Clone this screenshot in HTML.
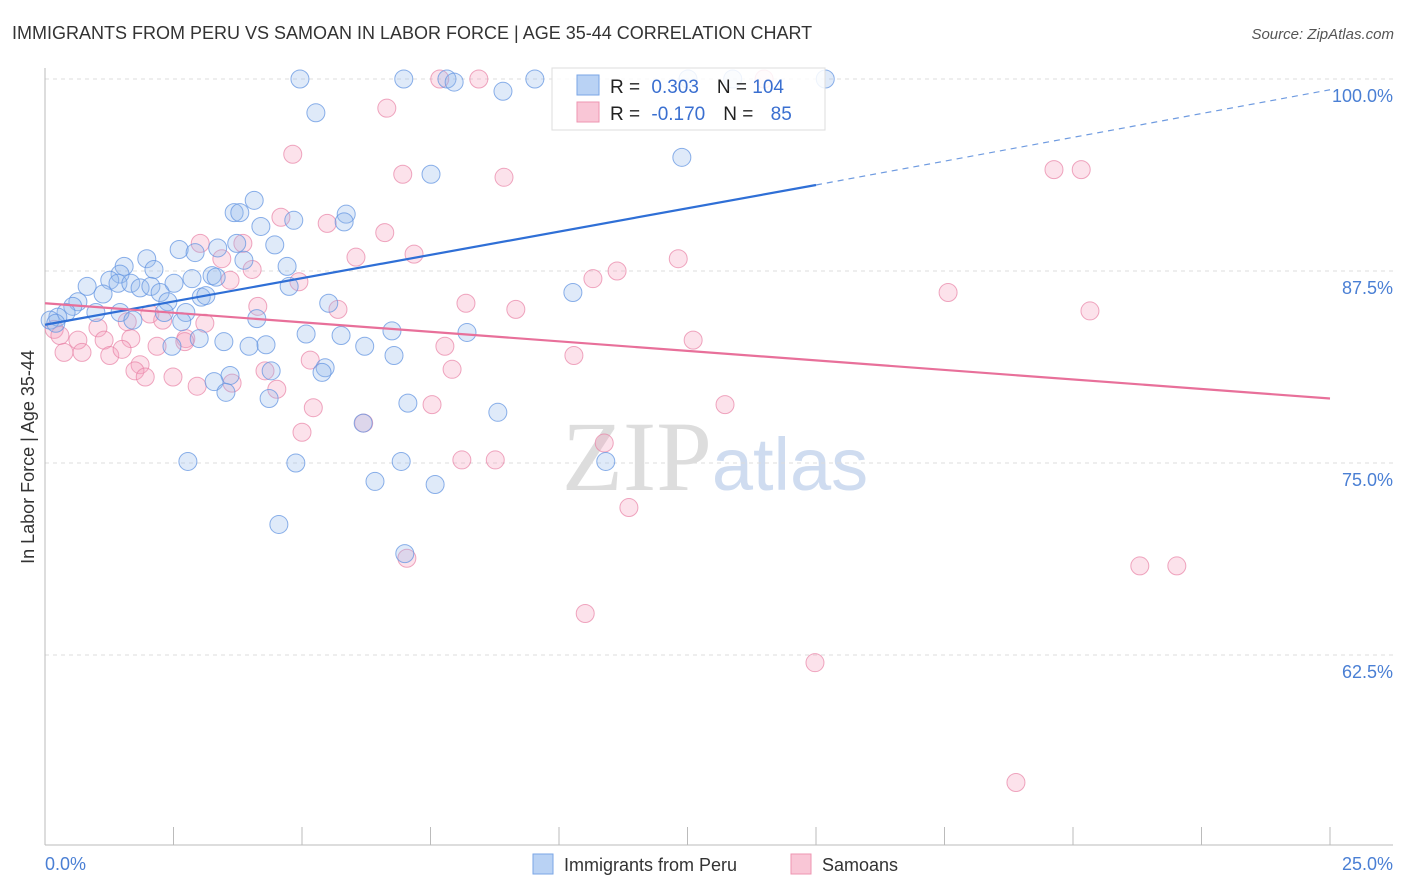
<!DOCTYPE html>
<html><head><meta charset="utf-8"><style>
body{margin:0;background:#fff;font-family:"Liberation Sans",sans-serif;}
</style></head><body>
<svg id="chart" width="1406" height="892" style="display:block">
<text x="12" y="39" font-size="18" fill="#333">IMMIGRANTS FROM PERU VS SAMOAN IN LABOR FORCE | AGE 35-44 CORRELATION CHART</text>
<text x="1394" y="39" font-size="15" fill="#555" font-style="italic" text-anchor="end">Source: ZipAtlas.com</text>
<text x="715" y="490" font-size="100" fill="#ddd" text-anchor="middle" font-family="Liberation Serif,serif">ZIP<tspan fill="#cfdcf0" font-family="Liberation Sans,sans-serif" font-size="74">atlas</tspan></text>
<g id="grid"></g>
<g id="pts"></g>
<g id="lines"></g>
<text transform="translate(34,457) rotate(-90)" font-size="18" fill="#333" text-anchor="middle">In Labor Force | Age 35-44</text>
<text x="45" y="870" font-size="18" fill="#4a7fd4">0.0%</text>
<text x="1393" y="870" font-size="18" fill="#4a7fd4" text-anchor="end">25.0%</text>
<g>
<rect x="552" y="68" width="273" height="62" fill="#fff" fill-opacity="0.85" stroke="#ddd"/>
<rect x="577" y="75" width="22" height="20" fill="#b9d2f4" stroke="#7aa6e6"/>
<rect x="577" y="102" width="22" height="20" fill="#f9c6d6" stroke="#ee95b1"/>
<text x="610" y="93" font-size="19" fill="#222">R = <tspan fill="#3a6fd0" dx="6">0.303</tspan><tspan dx="18" fill="#222">N = </tspan><tspan fill="#3a6fd0">104</tspan></text>
<text x="610" y="120" font-size="19" fill="#222">R = <tspan fill="#3a6fd0" dx="6">-0.170</tspan><tspan dx="18" fill="#222">N = </tspan><tspan fill="#3a6fd0" dx="12">85</tspan></text>
</g>
<g>
<rect x="533" y="854" width="20" height="20" fill="#b9d2f4" stroke="#7aa6e6"/>
<text x="564" y="871" font-size="18" fill="#333">Immigrants from Peru</text>
<rect x="791" y="854" width="20" height="20" fill="#f9c6d6" stroke="#ee95b1"/>
<text x="822" y="871" font-size="18" fill="#333">Samoans</text>
</g>
</svg>
<script>
const yTicks=[100,87.5,75,62.5];
const yTickLabels=["100.0%","87.5%","75.0%","62.5%"];
const blueX=[4.96,6.98,7.82,7.96,9.53,8.91,5.27,12.39,7.51,4.07,3.68,3.79,5.86,5.82,4.84,4.2,3.73,4.47,3.36,2.61,2.92,1.98,3.87,4.71,1.54,2.12,1.46,1.26,1.42,1.67,0.82,1.85,2.06,2.51,2.86,3.25,3.33,4.75,1.13,2.24,3.04,3.13,10.27,0.64,0.54,0.41,0.25,0.1,0.21,0.99,1.46,2.39,2.32,2.74,4.12,2.66,1.71,5.52,5.08,6.75,8.21,5.76,3.0,3.48,2.47,3.97,4.3,6.22,6.79,5.45,5.39,4.4,3.6,3.29,3.52,4.36,7.06,8.81,6.19,2.78,4.88,6.93,10.91,6.42,7.59,4.55,7.0,15.18,13.38,12.51];
const blueY=[100,100,100,99.8,100,99.2,97.8,94.9,93.8,92.1,91.3,91.3,91.2,90.7,90.8,90.4,89.3,89.2,89.0,88.9,88.7,88.3,88.2,87.8,87.8,87.6,87.3,86.9,86.7,86.7,86.5,86.4,86.5,86.7,87.0,87.2,87.1,86.5,86.0,86.1,85.8,85.9,86.1,85.5,85.2,84.8,84.5,84.3,84.1,84.8,84.8,85.5,84.8,84.8,84.4,84.2,84.3,85.4,83.4,83.6,83.5,83.3,83.1,82.9,82.6,82.6,82.7,82.6,82.0,81.2,80.9,81.0,80.7,80.3,79.6,79.2,78.9,78.3,77.6,75.1,75.0,75.1,75.1,73.8,73.6,71.0,69.1,100,100,100];
const pinkX=[7.68,8.44,13.99,6.65,4.82,6.96,8.93,19.63,20.16,4.59,5.49,6.61,3.02,3.85,6.05,7.18,12.32,11.13,10.66,3.44,4.03,3.6,4.94,17.57,20.33,8.19,9.16,4.14,5.7,2.04,1.6,2.29,3.11,1.03,0.18,0.29,0.64,1.15,1.67,2.74,2.72,12.61,0.37,0.72,1.26,1.5,2.18,7.78,10.29,5.16,1.85,1.75,7.92,1.95,2.49,3.64,2.96,4.51,4.28,5.22,7.53,13.23,6.2,5.0,10.88,8.11,8.76,11.36,7.04,21.3,22.02,10.51,14.98,18.89];
const pinkY=[100,100,100,98.1,95.1,93.8,93.6,94.1,94.1,91.0,90.6,90.0,89.3,89.3,88.4,88.6,88.3,87.5,87.0,88.3,87.6,86.9,86.8,86.1,84.9,85.4,85.0,85.2,85.0,84.7,84.2,84.3,84.1,83.8,83.7,83.3,83.0,83.0,83.1,83.1,82.9,83.0,82.2,82.2,82.0,82.4,82.6,82.6,82.0,81.7,81.4,81.0,81.1,80.6,80.6,80.2,80.0,79.8,81.0,78.6,78.8,78.8,77.6,77.0,76.3,75.2,75.2,72.1,68.8,68.3,68.3,65.2,62.0,54.2];
const blueTrend=[84.0,93.1,99.3];
const blueTrendX=[0,15,25];
const pinkTrend=[85.4,79.2];
const pinkTrendX=[0,25];
const sx=v=>45+v/25*1285;
const sy=v=>79+(100-v)/12.5*192;
const NS="http://www.w3.org/2000/svg";
function mk(tag,attrs,parent){const e=document.createElementNS(NS,tag);for(const k in attrs)e.setAttribute(k,attrs[k]);parent.appendChild(e);return e;}
const grid=document.getElementById('grid');
yTicks.forEach((t,i)=>{
  const l=mk('line',{x1:45,x2:1393,y1:sy(t),y2:sy(t),stroke:'#ddd','stroke-dasharray':'4,4'},grid);
  
  
  const tx=mk('text',{x:1393,y:sy(t)+23,'font-size':18,fill:'#4a7fd4','text-anchor':'end'},grid);
  tx.textContent=yTickLabels[i];
  
  
});
const ax=mk('line',{x1:45,x2:1393,y1:845,y2:845,stroke:'#bbb'},grid);


const ay=mk('line',{x1:45,x2:45,y1:68,y2:845,stroke:'#bbb'},grid);


for(let i=0;i<=10;i++){
  const t=mk('line',{x1:sx(i*2.5),x2:sx(i*2.5),y1:827,y2:845,stroke:'#bbb'},grid);
  
  
}
const pts=document.getElementById('pts');
pinkX.forEach((x,i)=>{
  const c=mk('circle',{cx:sx(x),cy:sy(pinkY[i]),r:9,fill:'rgba(244,160,190,0.3)',stroke:'rgba(232,130,165,0.7)','stroke-width':1},pts);
  
  
});
blueX.forEach((x,i)=>{
  const c=mk('circle',{cx:sx(x),cy:sy(blueY[i]),r:9,fill:'rgba(150,185,235,0.3)',stroke:'rgba(100,150,225,0.75)','stroke-width':1},pts);
  
  
});
const lines=document.getElementById('lines');
const b1=mk('line',{x1:sx(blueTrendX[0]),y1:sy(blueTrend[0]),x2:sx(blueTrendX[1]),y2:sy(blueTrend[1]),stroke:'#2f6fd6','stroke-width':2.2},lines);


const b2=mk('line',{x1:sx(blueTrendX[1]),y1:sy(blueTrend[1]),x2:sx(blueTrendX[2]),y2:sy(blueTrend[2]),stroke:'#6f9be0','stroke-width':1.2,'stroke-dasharray':'6,5'},lines);


const p1=mk('line',{x1:sx(pinkTrendX[0]),y1:sy(pinkTrend[0]),x2:sx(pinkTrendX[1]),y2:sy(pinkTrend[1]),stroke:'#e8709a','stroke-width':2.2},lines);


</script>
</body></html>
